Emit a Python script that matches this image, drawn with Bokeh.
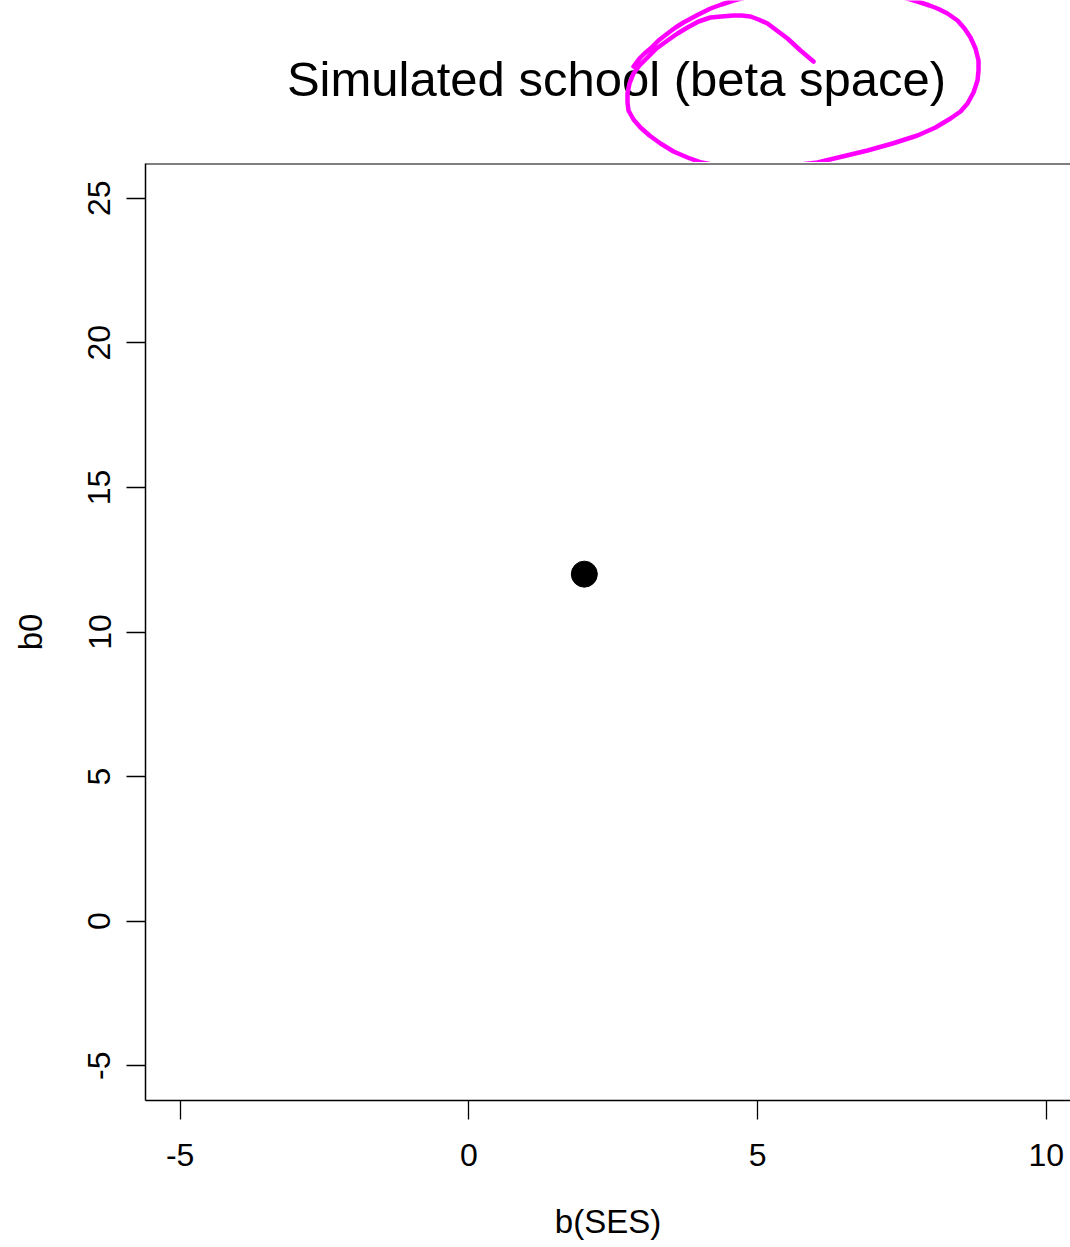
from bokeh.plotting import figure
from bokeh.layouts import column
from bokeh.models import Range1d, FixedTicker, PrintfTickFormatter, Span
from bokeh.core.properties import value
from bokeh.embed import file_html
from bokeh.resources import INLINE

# ---- data ----
b_ses = [2.0]
b0 = [12.0]
x_ticks = [-5, 0, 5, 10]
y_ticks = [-5, 0, 5, 10, 15, 20, 25]
title_text = "Simulated school (beta space)"
x_label = "b(SES)"
y_label = "b0"

# hand-drawn highlight loop around "(beta space)" (pixel coordinates of the title strip)
loop_x = [813, 800, 787, 775, 767, 758, 750, 741, 733, 721, 710, 698, 687, 677, 667,
          656, 647, 639, 633, 629, 627, 627, 628, 633, 640, 649, 660, 673, 687,
          701, 717, 733, 750, 766, 783, 800, 817, 842, 867, 892, 917, 935, 950,
          960, 967, 973, 977, 978, 978, 975, 970, 964, 957, 947, 937, 929, 920,
          900, 870, 835, 800, 770, 745, 733, 721, 710, 696, 683, 675, 667, 658,
          650, 644, 640, 636, 633]
loop_y = [61, 50, 38, 29, 23, 19, 16, 15, 15, 16, 17, 21, 27, 33, 40,
          48, 57, 65, 73, 83, 93, 102, 110, 119, 127, 135, 143, 151, 157,
          162, 165, 167, 167, 167, 166, 164, 162, 156, 150, 143, 135, 127, 118,
          111, 103, 92, 80, 70, 60, 48, 37, 28, 20, 13, 8, 5, 2,
          -4, -10, -12, -11, -8, -3, 0, 4, 8, 15, 22, 27, 33, 40,
          48, 53, 57, 62, 66]

FONT = "Liberation Sans"
LEFT = 145
TOP_H = 162

# ---- title strip ----
top = figure(width=1070, height=TOP_H, x_range=Range1d(LEFT, 1070), y_range=Range1d(TOP_H, 0),
             output_backend="svg", toolbar_location=None,
             min_border_left=LEFT, min_border_right=0, min_border_top=0, min_border_bottom=0,
             x_axis_location=None, y_axis_location=None)
top.grid.visible = False
top.outline_line_color = None
top.background_fill_color = "white"
top.border_fill_color = "white"
top.text(x=[616], y=[78], text=[title_text], text_font=value(FONT),
         text_font_size="49px", text_align="center", text_baseline="middle",
         text_color="black")
top.line(loop_x, loop_y, line_color="#FF00FF", line_width=4.5,
         line_cap="round", line_join="round")

# ---- main plot ----
p = figure(width=1070, height=1084,
           x_range=Range1d(-5.6, 10.42), y_range=Range1d(-6.2, 26.2),
           output_backend="svg", toolbar_location=None,
           min_border_left=LEFT, min_border_right=0, min_border_top=1,
           min_border_bottom=146)
p.grid.visible = False
p.outline_line_color = None
p.background_fill_color = "white"
p.add_layout(Span(location=26.2, dimension="width", line_color="black", line_width=2))

p.scatter(b_ses, b0, size=26, color="black", marker="circle")

p.xaxis.ticker = FixedTicker(ticks=x_ticks)
p.yaxis.ticker = FixedTicker(ticks=y_ticks)
p.xaxis.axis_label = x_label
p.yaxis.axis_label = y_label
for ax in (p.xaxis, p.yaxis):
    ax.formatter = PrintfTickFormatter(format="%d")
    ax.major_tick_out = 19
    ax.major_tick_in = 0
    ax.minor_tick_out = 0
    ax.minor_tick_in = 0
    ax.major_tick_line_color = "black"
    ax.major_tick_line_width = 1.3
    ax.axis_line_color = "black"
    ax.axis_line_width = 1.5
    ax.major_label_text_font = FONT
    ax.major_label_text_font_size = "32px"
    ax.major_label_text_color = "black"
    ax.axis_label_text_font = FONT
    ax.axis_label_text_font_size = "33px"
    ax.axis_label_text_font_style = "normal"
    ax.axis_label_text_color = "black"
p.xaxis.major_label_standoff = 24
p.xaxis.axis_label_standoff = 34
p.yaxis.major_label_orientation = "vertical"
p.yaxis.major_label_standoff = 16
p.yaxis.axis_label_standoff = 37

layout = column(top, p)
open("out.html", "w").write(file_html(layout, INLINE))
